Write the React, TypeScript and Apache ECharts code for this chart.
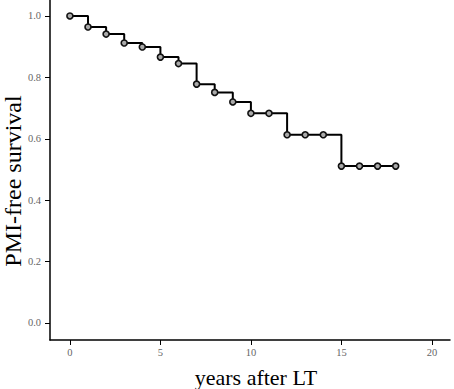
import React, { useEffect, useRef } from "react";
import * as echarts from "echarts";

const years = [0, 1, 2, 3, 4, 5, 6, 7, 8, 9, 10, 11, 12, 13, 14, 15, 16, 17, 18];
const survival = [1.0, 0.964, 0.941, 0.912, 0.899, 0.866, 0.845, 0.778, 0.751, 0.72, 0.683, 0.683, 0.613, 0.613, 0.613, 0.511, 0.511, 0.511, 0.511];
const xTicks = [0, 5, 10, 15, 20];
const yTicks = [0, 0.2, 0.4, 0.6, 0.8, 1.0];
const xTitle = "years after LT";
const yTitle = "PMI-free survival";

export default function App() {
  const ref = useRef<HTMLDivElement>(null);
  useEffect(() => {
    document.body.style.margin = "0";
    const chart = echarts.init(ref.current!, null, { renderer: "svg" });
    const font = "'Liberation Serif', 'Times New Roman', serif";
    chart.setOption({
      animation: false,
      backgroundColor: "#fff",
      grid: { left: 50, right: 4, top: 0, bottom: 49 },
      graphic: [
        {
          type: "text",
          x: 256,
          y: 377,
          style: { text: xTitle, fontFamily: font, fontSize: 22, fill: "#000", align: "center", verticalAlign: "middle" },
        },
        {
          type: "text",
          x: 13,
          y: 181,
          rotation: Math.PI / 2,
          style: { text: yTitle, fontFamily: font, fontSize: 24, fill: "#000", align: "center", verticalAlign: "middle" },
        },
      ],
      xAxis: {
        type: "value",
        min: -1.1,
        max: 21,
        axisLine: { show: true, onZero: false, lineStyle: { color: "#000", width: 1.5 } },
        axisTick: { show: true, customValues: xTicks, length: 5, lineStyle: { color: "#000" } },
        axisLabel: {
          customValues: xTicks,
          formatter: (v: number) => String(v),
          fontFamily: font,
          fontSize: 10.5,
          color: "#666",
          margin: 7,
        },
        splitLine: { show: false },
      },
      yAxis: {
        type: "value",
        min: -0.0554,
        max: 1.052,
        axisLine: { show: true, onZero: false, lineStyle: { color: "#000", width: 1.5 } },
        axisTick: { show: true, customValues: yTicks, length: 5, lineStyle: { color: "#000" } },
        axisLabel: {
          customValues: yTicks,
          formatter: (v: number) => v.toFixed(1),
          fontFamily: font,
          fontSize: 10.5,
          color: "#666",
          margin: 9,
        },
        splitLine: { show: false },
      },
      series: [
        {
          type: "line",
          step: "end",
          data: years.map((t, i) => [t, survival[i]]),
          symbol: "circle",
          symbolSize: 6,
          showAllSymbol: true,
          lineStyle: { color: "#000", width: 2 },
          itemStyle: { color: "#aaa", borderColor: "#111", borderWidth: 1.6 },
        },
      ],
    });
    return () => chart.dispose();
  }, []);
  return <div ref={ref} style={{ width: 454, height: 389 }} />;
}
